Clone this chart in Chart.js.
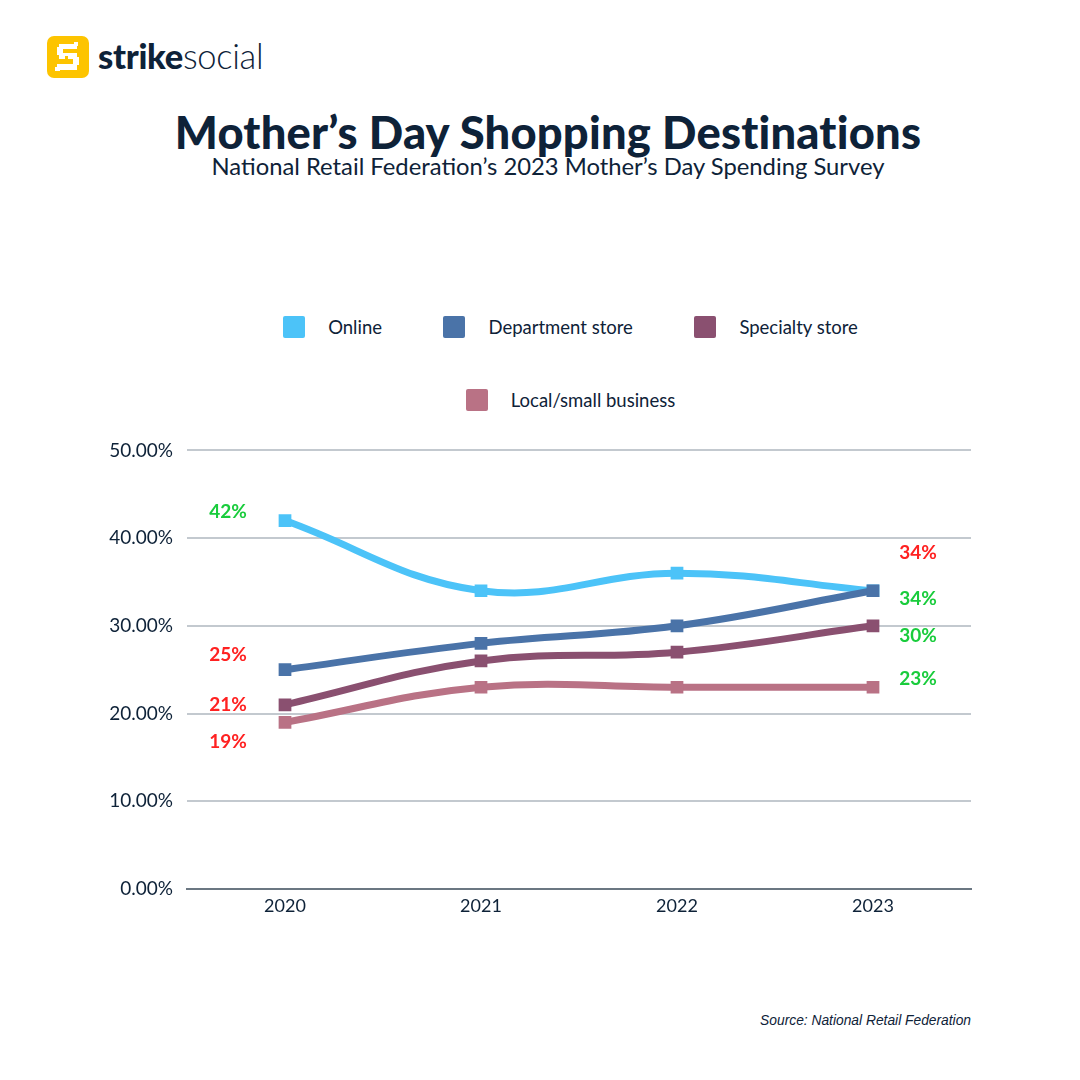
<!DOCTYPE html>
<html><head><meta charset="utf-8">
<script src="https://cdn.jsdelivr.net/npm/chart.js@4.4.0/dist/chart.umd.min.js"></script>
<style>
html,body{margin:0;padding:0;background:#fff;}
body{width:1080px;height:1080px;position:relative;overflow:hidden;font-family:Lato,"Open Sans",sans-serif;color:#0e2238;}
#logo{position:absolute;left:47px;top:35px;height:43px;display:flex;align-items:center;}
#logo .box{width:42px;height:42px;border-radius:7px;background:#fdc400;position:relative;}
#logo .word{margin-left:9px;font-size:34.5px;letter-spacing:-0.3px;color:#0e2238;line-height:1;}
#logo .word b{font-weight:900;}
#logo .word span{font-weight:300;}
#title{position:absolute;left:0;width:1096px;top:104px;text-align:center;font-size:45.3px;font-weight:900;color:#0e2238;letter-spacing:0.2px;}
#subtitle{position:absolute;left:0;width:1096px;top:152px;text-align:center;font-size:23.8px;font-weight:400;color:#0e2238;}
#legend{position:absolute;left:0;width:1141px;top:313px;}
.lrow{display:flex;justify-content:center;height:28px;align-items:center;margin-bottom:45px;}
.litem{display:flex;align-items:center;margin:0 30.75px;font-size:18.5px;color:#0e2238;}
.lbox{width:22px;height:22px;border-radius:2px;margin-right:23px;}
#wrap{position:absolute;left:100px;top:425px;width:880px;height:501px;}
#source{position:absolute;right:109px;top:1013px;font-family:"Liberation Sans",Arial,sans-serif;font-style:italic;font-size:13.8px;color:#0e2238;}
</style></head>
<body>
<div id="logo"><div class="box"><svg width="42" height="42" viewBox="0 0 42 42">
<g fill="#fff">
<rect x="12" y="8" width="18" height="5"/><rect x="27" y="6" width="4" height="4"/>
<rect x="10" y="11" width="6" height="8"/><rect x="12" y="17" width="18" height="6"/>
<rect x="26" y="21" width="6" height="8"/><rect x="10" y="28" width="20" height="6"/>
<rect x="8" y="31" width="5" height="4"/><rect x="18" y="20" width="3" height="3" fill="#fdc400"/>
</g></svg></div><div class="word"><b>strike</b><span>social</span></div></div>
<div id="title">Mother’s Day Shopping Destinations</div>
<div id="subtitle">National Retail Federation’s 2023 Mother’s Day Spending Survey</div>
<div id="legend"></div>
<div id="wrap"><canvas id="c"></canvas></div>
<div id="source">Source: National Retail Federation</div>
<script>
const years = ['2020','2021','2022','2023'];
const seriesNames = ['Online','Department store','Specialty store','Local/small business'];
const online = [42, 34, 36, 34];
const department = [25, 28, 30, 34];
const specialty = [21, 26, 27, 30];
const local = [19, 23, 23, 23];
const colors = ['#4cc3f8','#4a73a8','#8a5070','#b97285'];
const yTicks = [0,10,20,30,40,50];
// end-point annotations: [series index, point index, text, colour key]
const annotations = [
  [0,0,'42%','g'],[1,0,'25%','r'],[2,0,'21%','r'],[3,0,'19%','r'],
  [0,3,'34%','r'],[1,3,'34%','g'],[2,3,'30%','g'],[3,3,'23%','g']
];
const annotDy = [-9,-15,0,20,-38,8,10,-8];
const annotColor = {g:'#19cc3c', r:'#ff2121'};

const values = [online, department, specialty, local];

// HTML legend rows
const rows = [[0,1,2],[3]];
const leg = document.getElementById('legend');
rows.forEach(r=>{
  const row = document.createElement('div'); row.className='lrow';
  r.forEach(i=>{
    const it=document.createElement('div'); it.className='litem';
    it.innerHTML='<div class="lbox" style="background:'+colors[i]+'"></div><span>'+seriesNames[i]+'</span>';
    row.appendChild(it);
  });
  leg.appendChild(row);
});

const labelPlugin = {
  id:'endLabels',
  afterDatasetsDraw(chart){
    const ctx = chart.ctx;
    ctx.save();
    ctx.font = '700 19px Lato';
    ctx.textAlign='center'; ctx.textBaseline='middle';
    annotations.forEach((a,k)=>{
      const pt = chart.getDatasetMeta(a[0]).data[a[1]];
      const dx = a[1]===0 ? -57 : 45;
      ctx.fillStyle = annotColor[a[3]];
      ctx.fillText(a[2], pt.x+dx, pt.y+annotDy[k]);
    });
    ctx.restore();
  }
};

new Chart(document.getElementById('c'),{
  type:'line',
  data:{
    labels: years,
    datasets: values.map((v,i)=>({
      label: seriesNames[i], data: v, order: 3-i,
      borderColor: colors[i], backgroundColor: colors[i],
      borderWidth: 7, tension: 0.4, cubicInterpolationMode:'default',
      pointStyle:'rect', pointRadius: 9, pointHoverRadius: 9,
      pointBorderWidth:0, fill:false
    }))
  },
  options:{
    responsive:true, maintainAspectRatio:false, animation:false,
    layout:{padding:{top:0,right:8,left:0,bottom:0}},
    plugins:{legend:{display:false}, tooltip:{enabled:false}},
    scales:{
      x:{
        offset:true,
        grid:{display:false, drawTicks:false},
        border:{display:true,color:'#6b7782',width:2},
        ticks:{color:'#0e2238',font:{family:'Lato',size:18},padding:6},
        afterFit(s){s.height=37;}
      },
      y:{
        min:0,max:50,
        afterBuildTicks(s){s.ticks = yTicks.map(v=>({value:v}));},
        grid:{color:'#c3c9cf',lineWidth:2,drawTicks:false},
        border:{display:false},
        ticks:{color:'#0e2238',font:{family:'Lato',size:19},padding:14,
          callback:v=>v.toFixed(2)+'%'},
        afterFit(s){s.width=87;}
      }
    }
  },
  plugins:[labelPlugin]
});
</script>
</body></html>
